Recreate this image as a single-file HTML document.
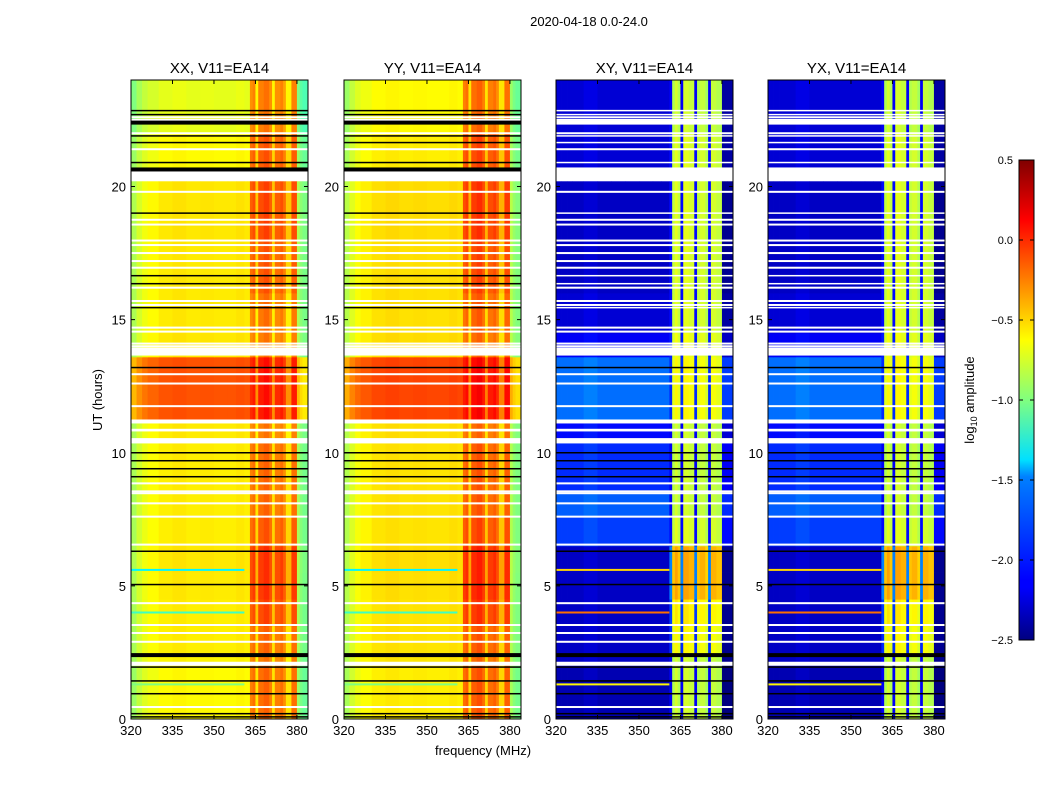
<!DOCTYPE html>
<html><head><meta charset="utf-8"><style>
html,body{margin:0;padding:0;background:#fff;}
svg{display:block;font-family:"Liberation Sans",sans-serif;}
</style></head><body>
<svg id="fig" width="1050" height="800" viewBox="0 0 1050 800" xmlns="http://www.w3.org/2000/svg">
<defs>
<linearGradient id="jetgrad" x1="0" y1="1" x2="0" y2="0">
<stop offset="0" stop-color="#000080"/><stop offset="0.11" stop-color="#0000ff"/><stop offset="0.125" stop-color="#0000ff"/>
<stop offset="0.34" stop-color="#0080ff"/><stop offset="0.375" stop-color="#00e0ff"/><stop offset="0.5" stop-color="#80ff80"/>
<stop offset="0.625" stop-color="#ffff00"/><stop offset="0.66" stop-color="#ffdc00"/><stop offset="0.875" stop-color="#ff0000"/><stop offset="1" stop-color="#800000"/>
</linearGradient>
</defs>
<text x="589" y="26" font-size="13" text-anchor="middle">2020-04-18 0.0-24.0</text>
<text x="483" y="755" font-size="13" text-anchor="middle">frequency (MHz)</text>
<text x="102" y="400" font-size="13" text-anchor="middle" transform="rotate(-90 102 400)">UT (hours)</text>
<g id="panels"></g>
<g>
<rect x="1019" y="160" width="15" height="480" fill="url(#jetgrad)" stroke="#000" stroke-width="1"/>
<g id="cbticks"></g>
<text x="974" y="400" font-size="13" text-anchor="middle" transform="rotate(-90 974 400)">log<tspan font-size="9" dy="3">10</tspan><tspan dy="-3"> amplitude</tspan></text>
</g>
</svg>
<script>
// ---- data ----
const panelTitles = ["XX, V11=EA14","YY, V11=EA14","XY, V11=EA14","YX, V11=EA14"];
const xTicks = [320,335,350,365,380];
const yTicks = [0,5,10,15,20];
const cbTicks = [0.5,0.0,-0.5,-1.0,-1.5,-2.0,-2.5];
const cbTickLabels = ["0.5","0.0","\u22120.5","\u22121.0","\u22121.5","\u22122.0","\u22122.5"];
// frequency intervals (MHz)
const freqEdges = [320,322,324,326,330,335,340,345,350,355,358,361,362,363,364,365,366,368,370,371,372,374,375,376,378,380,381,382,384];
const parInBand   = [0,0,0,0,0,0,0,0,0,0,0,0,0,1,1,1,1,1,1,1,1,1,1,1,1,0,0,0];
const crossInBand = [0,0,0,0,0,0,0,0,0,0,0,1,1,1,1,1,1,1,1,1,1,1,1,1,1,0,0,0];
const parOffset = [-0.3,-0.18,-0.1,-0.05,0,0.02,0,0.01,0,0,0.02,0,0,0,0.05,-0.3,0.05,0.1,0,-0.3,0,0.05,-0.05,-0.3,0.05,-0.3,-0.4,-0.45];
const crossOffset = [0,0,0,0,0.05,0,0,0,0,0,0,-1.3,0,0.1,0,-1.3,0.1,0.05,-1.3,0,0.05,-0.05,-1.3,0.05,0,-0.15,-0.15,-0.15];
// time intervals (hours)
const timeEdges = [0,1,2,2.4,3.5,4.5,5.5,6.5,7.6,8.6,10.4,11.2,13.6,14.5,16,18,20.2,20.6,22,24];
const xxBg   = [-0.62,-0.62,-0.6,-0.58,-0.58,-0.57,-0.56,-0.58,-0.58,-0.58,-0.57,-0.12,-0.56,-0.57,-0.57,-0.56,null,-0.62,-0.7];
const xxBand = [-0.25,-0.25,-0.3,-0.25,-0.15,-0.1,-0.1,-0.2,-0.25,-0.25,-0.3,0.0,-0.3,-0.28,-0.2,-0.15,null,-0.2,-0.3];
const yyBg   = [-0.58,-0.58,-0.56,-0.55,-0.55,-0.54,-0.53,-0.55,-0.55,-0.55,-0.54,-0.08,-0.53,-0.54,-0.54,-0.53,null,-0.58,-0.62];
const yyBand = [-0.2,-0.2,-0.25,-0.2,-0.1,-0.05,-0.05,-0.15,-0.2,-0.2,-0.25,0.05,-0.25,-0.22,-0.15,-0.1,null,-0.15,-0.25];
const xyBg   = [-2.35,-2.35,-2.3,-2.3,-2.3,-2.3,-2.3,-1.95,-1.85,-2.0,-2.1,-1.8,-2.15,-2.25,-2.3,-2.3,null,-2.25,-2.25];
const xyBand = [-0.85,-0.85,-0.85,-0.7,-0.65,-0.45,-0.45,-0.8,-0.85,-0.85,-0.85,-0.7,-0.75,-0.8,-0.8,-0.8,null,-0.8,-0.85];
const yxBg   = [-2.35,-2.35,-2.3,-2.3,-2.3,-2.3,-2.3,-1.95,-1.85,-2.0,-2.1,-1.8,-2.15,-2.25,-2.3,-2.3,null,-2.25,-2.25];
const yxBand = [-0.85,-0.85,-0.85,-0.7,-0.65,-0.45,-0.45,-0.8,-0.85,-0.85,-0.85,-0.7,-0.75,-0.8,-0.8,-0.8,null,-0.8,-0.85];
// flagged rows and lines (hours)
const whiteBlocks = [[20.2,20.5],[13.65,13.95],[11.1,11.25],[10.8,10.9],[10.35,10.55],[2.0,2.15]];
const whiteLines = [22.6,22.5,22.0,21.4,19.8,18.75,18.57,17.97,17.8,17.5,17.2,16.95,16.2,15.7,15.55,14.7,14.55,14.1,14.0,12.95,12.6,11.75,8.85,8.55,8.48,8.1,7.6,6.55,4.35,3.53,3.23,2.9,0.45];
const blackLines = [22.85,22.7,21.9,21.65,20.9,19.0,16.65,16.35,15.45,13.2,10.0,9.7,9.4,9.1,6.3,5.05,1.95,1.43,0.95,0.2,0.08];
const blackThick = [22.4,20.64,2.4];
const streakHours = [5.6,4.0,1.3];
const streakParVal = [-1.4,-1.2,-1.0];
const streakCrossVal = [-0.5,-0.2,-0.6];

// ---- axes ----
const panelX0 = [131,344,556,768];
const PW = 177, PT = 80, PB = 719;
const F0 = 320, F1 = 384, H1 = 24;
function xs(i,f){ return panelX0[i] + (f-F0)*PW/(F1-F0); }
function ys(h){ return PB - h*(PB-PT)/H1; }
function jet(v){
  let t = (v+2.5)/3; t = Math.max(0,Math.min(1,t));
  const c = x => Math.round(255*Math.max(0,Math.min(1,x)));
  return `rgb(${c(1.5-Math.abs(4*t-3))},${c(1.5-Math.abs(4*t-2))},${c(1.5-Math.abs(4*t-1))})`;
}
const NS = "http://www.w3.org/2000/svg";
function mk(tag, attrs){ const e = document.createElementNS(NS, tag); for (const k in attrs) e.setAttribute(k, attrs[k]); return e; }

const bgArrays = [xxBg, yyBg, xyBg, yxBg];
const bandArrays = [xxBand, yyBand, xyBand, yxBand];
const panelsG = document.getElementById('panels');

for (let p = 0; p < 4; p++) {
  const g = mk('g', {});
  
  
  panelsG.appendChild(g);
  const cross = p >= 2;
  const offs = cross ? crossOffset : parOffset;
  const inBand = cross ? crossInBand : parInBand;
  const hm = mk('g', {});
  
  
  g.appendChild(hm);
  for (let ti = 0; ti < timeEdges.length-1; ti++) {
    const bg = bgArrays[p][ti], band = bandArrays[p][ti];
    if (bg === null) continue;
    const yTop = ys(timeEdges[ti+1]), yBot = ys(timeEdges[ti]);
    for (let fi = 0; fi < freqEdges.length-1; fi++) {
      const v = (inBand[fi] ? band : bg) + offs[fi];
      const xa = xs(p, freqEdges[fi]), xb = xs(p, freqEdges[fi+1]);
      const r = mk('rect', {x: xa.toFixed(2), y: yTop.toFixed(2), width: (xb-xa+0.4).toFixed(2), height: (yBot-yTop+0.4).toFixed(2), fill: jet(v)});
      
      
      hm.appendChild(r);
    }
  }
  for (let s = 0; s < streakHours.length; s++) {
    const yv = ys(streakHours[s]);
    const r = mk('rect', {x: xs(p,320), y: (yv-1).toFixed(2), width: (xs(p,361)-xs(p,320)).toFixed(2), height: 2, fill: jet(cross ? streakCrossVal[s] : streakParVal[s])});
    
    
    g.appendChild(r);
  }
  for (const b of whiteBlocks) {
    const r = mk('rect', {x: xs(p,320), y: ys(b[1]), width: PW, height: ys(b[0])-ys(b[1]), fill: '#fff'});
    
    
    g.appendChild(r);
  }
  for (const h of whiteLines) {
    const r = mk('rect', {x: xs(p,320), y: (ys(h)-1).toFixed(2), width: PW, height: 2, fill: '#fff'});
    
    
    g.appendChild(r);
  }
  for (const h of blackLines) {
    const r = mk('rect', {x: xs(p,320), y: (ys(h)-0.75).toFixed(2), width: PW, height: 1.5, fill: cross && h > 14 ? '#fff' : '#000'});
    
    
    g.appendChild(r);
  }
  for (const h of blackThick) {
    const r = mk('rect', {x: xs(p,320), y: (ys(h)-2).toFixed(2), width: PW, height: 4, fill: cross && h > 14 ? '#fff' : '#000'});
    
    
    g.appendChild(r);
  }
  const fr = mk('rect', {x: panelX0[p], y: PT, width: PW, height: PB-PT, fill: 'none', stroke: '#000', 'stroke-width': 1});
  
  
  g.appendChild(fr);
  const tt = mk('text', {x: panelX0[p]+PW/2, y: 73, 'font-size': 15, 'text-anchor': 'middle'});
  tt.textContent = panelTitles[p];
  
  
  g.appendChild(tt);
  for (const f of xTicks) {
    const x = xs(p,f);
    const t1 = mk('line', {x1:x, x2:x, y1:PB, y2:PB-4, stroke:'#000'});
    
    
    g.appendChild(t1);
    const t2 = mk('line', {x1:x, x2:x, y1:PT, y2:PT+4, stroke:'#000'});
    
    
    g.appendChild(t2);
    const lb = mk('text', {x:x, y:PB+16, 'font-size':13, 'text-anchor':'middle'});
    lb.textContent = f;
    
    
    g.appendChild(lb);
  }
  for (const h of yTicks) {
    const y = ys(h);
    const t1 = mk('line', {x1:panelX0[p], x2:panelX0[p]+4, y1:y, y2:y, stroke:'#000'});
    
    
    g.appendChild(t1);
    const t2 = mk('line', {x1:panelX0[p]+PW, x2:panelX0[p]+PW-4, y1:y, y2:y, stroke:'#000'});
    
    
    g.appendChild(t2);
    const lb = mk('text', {x:panelX0[p]-5, y:y+5, 'font-size':13, 'text-anchor':'end'});
    lb.textContent = h;
    
    
    g.appendChild(lb);
  }
}
const cbG = document.getElementById('cbticks');
function cbY(v){ return 640 - (v+2.5)*480/3; }
for (let i = 0; i < cbTicks.length; i++) {
  const y = cbY(cbTicks[i]);
  const l = mk('line', {x1:1019, x2:1023, y1:y, y2:y, stroke:'#000'});
  
  
  cbG.appendChild(l);
  const l2 = mk('line', {x1:1034, x2:1030, y1:y, y2:y, stroke:'#000'});
  
  
  cbG.appendChild(l2);
  const t = mk('text', {x:1013, y:y+4, 'font-size':11, 'text-anchor':'end'});
  t.textContent = cbTickLabels[i];
  
  
  cbG.appendChild(t);
}
</script>
</body></html>
